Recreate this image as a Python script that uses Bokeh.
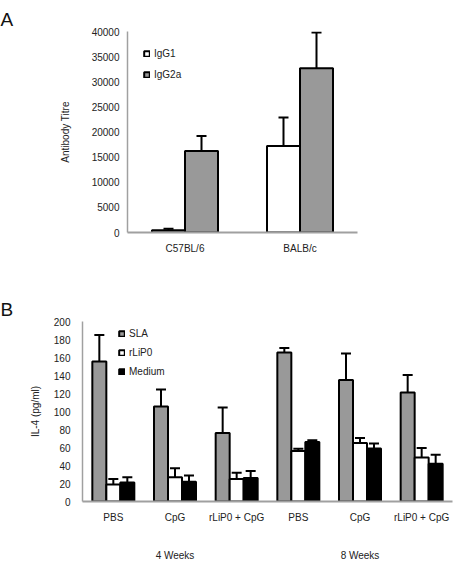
from bokeh.plotting import figure
from bokeh.models import (ColumnDataSource, FactorRange, Range1d, Legend, LegendItem,
                          CategoricalAxis, SingleIntervalTicker)
from bokeh.transform import dodge
from bokeh.embed import file_html
from bokeh.resources import INLINE

FONT = "Liberation Sans"
GRAY = "#999999"
AXIS = "#a0a0a0"

# ---------------- Panel A data ----------------
strains = ["C57BL/6", "BALB/c"]
igg1 = [450, 17200]
igg1_err = [750, 22900]
igg2a = [16200, 32700]
igg2a_err = [19200, 39800]
a_ticks_interval = 5000

# ---------------- Panel B data ----------------
weeks = ["4 Weeks", "8 Weeks"]
treatments = ["PBS", "CpG", "rLiP0 + CpG"]
sla = [155.5, 105.5, 76, 165.5, 135, 121]
sla_err = [185, 124.5, 104.5, 170.5, 164.5, 140.5]
rlip0 = [19, 27, 25, 56, 65, 49]
rlip0_err = [25, 37, 32, 58.5, 70.5, 59.5]
medium = [21, 22, 26, 66, 59, 42]
medium_err = [27, 29, 34, 68, 64.5, 52]


def style_axes(p):
    p.xgrid.grid_line_color = None
    p.ygrid.grid_line_color = None
    p.outline_line_color = None
    p.background_fill_color = None
    p.border_fill_color = None
    for ax in p.axis:
        ax.major_label_text_font = FONT
        ax.major_label_text_font_size = "10px"
        ax.major_label_text_color = "#222222"
        ax.axis_label_text_font = FONT
        ax.axis_label_text_font_size = "10px"
        ax.axis_label_text_font_style = "normal"
        ax.axis_label_text_color = "#222222"
        ax.major_tick_line_color = None
        ax.minor_tick_line_color = None
        ax.major_tick_out = 0
        ax.major_tick_in = 0
        ax.axis_line_color = AXIS


def style_title(p, text, left):
    p.title.text = text
    p.title.align = "left"
    p.title.vertical_align = "top"
    p.title.offset = -left
    p.title.standoff = 0
    p.title.text_font = FONT
    p.title.text_font_size = "19px"
    p.title.text_font_style = "normal"
    p.title.text_color = "#111111"


def bars_with_err(p, src, xfield, off, width, top, err, fill):
    x = dodge(xfield, off, range=p.x_range)
    r = p.vbar(x=x, top=top, width=width, source=src, fill_color=fill,
               line_color="black", line_width=2)
    p.segment(x0=x, y0=top, x1=x, y1=err, source=src, line_color="black", line_width=2)
    p.scatter(x=x, y=err, source=src, marker="dash", size=10,
              line_color="black", line_width=2)
    return r


# ================= Panel A =================
srcA = ColumnDataSource(dict(strain=strains, igg1=igg1, igg1_err=igg1_err,
                             igg2a=igg2a, igg2a_err=igg2a_err))
pA = figure(width=460, height=266, x_range=FactorRange(*strains),
            y_range=Range1d(0, 40000), output_backend="svg", toolbar_location=None,
            min_border_left=127, min_border_right=103, min_border_top=31,
            min_border_bottom=34)
w = 0.287
rA1 = bars_with_err(pA, srcA, "strain", -w / 2, w, "igg1", "igg1_err", "white")
rA2 = bars_with_err(pA, srcA, "strain", w / 2, w, "igg2a", "igg2a_err", GRAY)
style_axes(pA)
style_title(pA, "A", 127)
pA.yaxis.ticker = SingleIntervalTicker(interval=a_ticks_interval)
pA.yaxis.axis_label = "Antibody Titre"
pA.yaxis.major_label_standoff = 4
pA.yaxis.axis_label_standoff = 18
pA.yaxis.axis_line_width = 1.5
pA.xaxis.axis_line_width = 2
pA.xaxis.major_label_standoff = 10
legA = Legend(items=[LegendItem(label="IgG1", renderers=[rA1]),
                     LegendItem(label="IgG2a", renderers=[rA2])],
              location=(16, 149), margin=0, padding=0, spacing=3,
              label_height=18, glyph_width=7, glyph_height=7, label_standoff=4,
              background_fill_alpha=0, border_line_color=None,
              label_text_font=FONT, label_text_font_size="10px",
              label_text_color="#222222")
pA.add_layout(legA, "center")

# ================= Panel B =================
factors = [(wk, t) for wk in weeks for t in treatments]
srcB = ColumnDataSource(dict(x=factors, sla=sla, sla_err=sla_err, rlip0=rlip0,
                             rlip0_err=rlip0_err, medium=medium, medium_err=medium_err))
pB = figure(width=460, height=300,
            x_range=FactorRange(*factors, group_padding=0, factor_padding=0, range_padding=0),
            y_range=Range1d(0, 200), output_backend="svg", toolbar_location=None,
            min_border_left=82, min_border_right=8, min_border_top=55,
            min_border_bottom=65)
wb = 0.227
rB1 = bars_with_err(pB, srcB, "x", -wb, wb, "sla", "sla_err", GRAY)
rB2 = bars_with_err(pB, srcB, "x", 0, wb, "rlip0", "rlip0_err", "white")
rB3 = bars_with_err(pB, srcB, "x", wb, wb, "medium", "medium_err", "black")
pB.extra_x_ranges = {"weeks": FactorRange(*weeks)}
ax2 = CategoricalAxis(x_range_name="weeks")
pB.add_layout(ax2, "below")
style_axes(pB)
style_title(pB, "B", 82)
pB.yaxis.ticker = SingleIntervalTicker(interval=20)
pB.yaxis.axis_label = "IL-4 (pg/ml)"
pB.yaxis.major_label_standoff = 8
pB.yaxis.axis_label_standoff = 10
pB.yaxis.axis_line_width = 1.5
xb = pB.xaxis[0]
xb.axis_line_width = 2
xb.major_label_standoff = 10
xb.group_text_font_size = "0px"
xb.group_text_color = None
xb.separator_line_color = None
ax2.axis_line_color = None
ax2.major_label_standoff = 24
legB = Legend(items=[LegendItem(label="SLA", renderers=[rB1]),
                     LegendItem(label="rLiP0", renderers=[rB2]),
                     LegendItem(label="Medium", renderers=[rB3])],
              location=(36, 122), margin=0, padding=0, spacing=3,
              label_height=16, glyph_width=7, glyph_height=7, label_standoff=4,
              background_fill_alpha=0, border_line_color=None,
              label_text_font=FONT, label_text_font_size="10px",
              label_text_color="#222222")
pB.add_layout(legB, "center")

open("out.html", "w").write(file_html([pA, pB], INLINE))
